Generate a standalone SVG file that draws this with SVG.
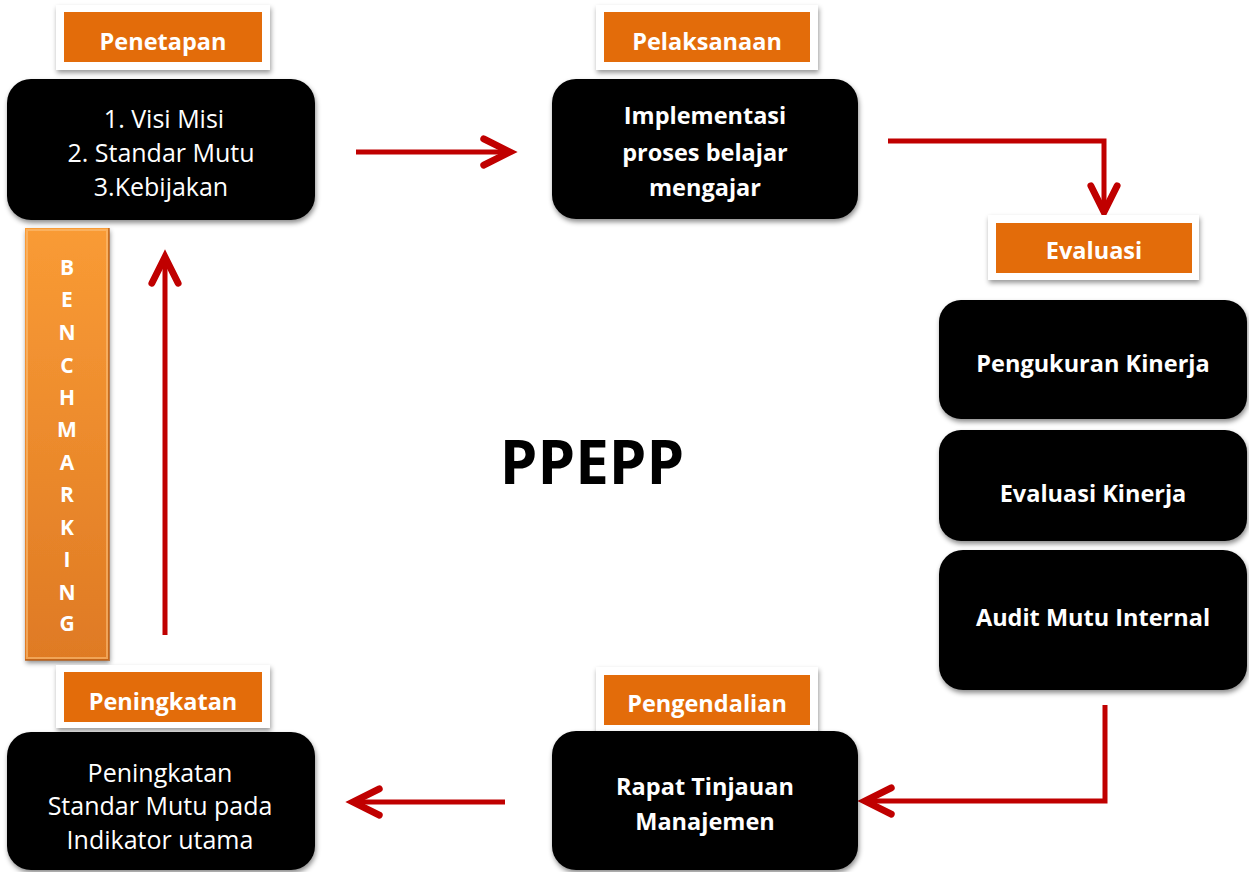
<svg xmlns="http://www.w3.org/2000/svg" width="1249" height="872" viewBox="0 0 1249 872">
<defs>
<style>
.box{fill:#000;filter:url(#sh);}
.frame{fill:#fff;filter:url(#sh2);}
.lab{fill:#E36C0A;}
.lt{font-family:"Open Sans","Liberation Sans",sans-serif;font-weight:bold;font-size:23.5px;fill:#fff;text-anchor:middle;}
.bt{font-family:"Open Sans","Liberation Sans",sans-serif;font-weight:bold;font-size:23.5px;fill:#fff;text-anchor:middle;}
.rt{font-family:"Open Sans","Liberation Sans",sans-serif;font-size:25px;fill:#fff;text-anchor:middle;}
.bm{font-family:"Open Sans","Liberation Sans",sans-serif;font-weight:bold;font-size:21px;fill:#fff;text-anchor:middle;}
.con{fill:none;stroke:#C00000;stroke-width:5;marker-end:url(#ah);}
</style>
<filter id="sh" x="-10%" y="-10%" width="125%" height="130%">
<feDropShadow dx="1" dy="3" stdDeviation="2.5" flood-color="#000" flood-opacity="0.45"/>
</filter>
<filter id="sh2" x="-10%" y="-10%" width="125%" height="140%">
<feDropShadow dx="1" dy="3" stdDeviation="2.5" flood-color="#000" flood-opacity="0.4"/>
</filter>
<linearGradient id="og" x1="0" y1="0" x2="0" y2="1">
<stop offset="0" stop-color="#F99B35"/>
<stop offset="1" stop-color="#DF7A24"/>
</linearGradient>
<marker id="ah" markerUnits="userSpaceOnUse" markerWidth="40" markerHeight="40" viewBox="-30 -15 35 30" refX="0" refY="0" orient="auto" overflow="visible">
<path d="M-23,-11.5 L0,0 L-23,11.5" fill="none" stroke="#C00000" stroke-width="6" stroke-linecap="round" stroke-linejoin="miter"/>
</marker>
</defs>
<rect width="1249" height="872" fill="#fff"/>

<g id="connectors">
<path class="con" d="M356,152 L510,152"/>
<path class="con" d="M888,141 L1104,141 L1104,212"/>
<path class="con" d="M1105,705 L1105,801 L865,801"/>
<path class="con" d="M505,802 L353,802"/>
<path class="con" d="M165,635 L165,257"/>
</g>

<g id="benchmarking">
<rect x="25" y="228" width="84" height="432" fill="url(#og)" filter="url(#sh)"/>
<rect x="27" y="230" width="80" height="428" fill="none" stroke="#FBC07A" stroke-width="2" opacity="0.6"/>
<path d="M25,660 L109,660 L109,228" fill="none" stroke="#B85C15" stroke-width="2" opacity="0.7"/>
<text class="bm" x="67" y="275">B</text>
<text class="bm" x="67" y="307">E</text>
<text class="bm" x="67" y="340">N</text>
<text class="bm" x="67" y="373">C</text>
<text class="bm" x="67" y="405">H</text>
<text class="bm" x="67" y="437">M</text>
<text class="bm" x="67" y="470">A</text>
<text class="bm" x="67" y="502">R</text>
<text class="bm" x="67" y="535">K</text>
<text class="bm" x="67" y="567">I</text>
<text class="bm" x="67" y="600">N</text>
<text class="bm" x="67" y="631">G</text>
</g>

<g id="penetapan">
<rect class="frame" x="56" y="5" width="214" height="65"/>
<rect class="lab" x="64" y="12" width="198" height="50"/>
<text class="lt" x="163" y="50">Penetapan</text>
<rect class="box" x="7" y="79" width="308" height="141" rx="24"/>
<text class="rt" x="164" y="128">1. Visi Misi</text>
<text class="rt" x="161" y="162">2. Standar Mutu</text>
<text class="rt" x="161" y="196">3.Kebijakan</text>
</g>

<g id="pelaksanaan">
<rect class="frame" x="596" y="5" width="222" height="65"/>
<rect class="lab" x="604" y="12" width="206" height="50"/>
<text class="lt" x="707" y="50">Pelaksanaan</text>
<rect class="box" x="552" y="79" width="306" height="140" rx="24"/>
<text class="bt" x="705" y="124">Implementasi</text>
<text class="bt" x="705" y="161">proses belajar</text>
<text class="bt" x="705" y="196">mengajar</text>
</g>

<g id="evaluasi">
<rect class="frame" x="988" y="215" width="211" height="65"/>
<rect class="lab" x="996" y="223" width="196" height="50"/>
<text class="lt" x="1094" y="259">Evaluasi</text>
</g>

<g id="pengukuran">
<rect class="box" x="939" y="300" width="308" height="119" rx="22"/>
<text class="bt" x="1093" y="372">Pengukuran Kinerja</text>
</g>

<g id="evaluasi-kinerja">
<rect class="box" x="939" y="430" width="308" height="111" rx="22"/>
<text class="bt" x="1093" y="502">Evaluasi Kinerja</text>
</g>

<g id="audit">
<rect class="box" x="939" y="550" width="308" height="140" rx="24"/>
<text class="bt" x="1093" y="626">Audit Mutu Internal</text>
</g>

<g id="pengendalian">
<rect class="frame" x="596" y="667" width="222" height="66"/>
<rect class="lab" x="604" y="675" width="206" height="50"/>
<text class="lt" x="707" y="712">Pengendalian</text>
<rect class="box" x="552" y="731" width="306" height="139" rx="24"/>
<text class="bt" x="705" y="795">Rapat Tinjauan</text>
<text class="bt" x="705" y="830">Manajemen</text>
</g>

<g id="peningkatan">
<rect class="frame" x="56" y="665" width="214" height="63"/>
<rect class="lab" x="64" y="672" width="198" height="50"/>
<text class="lt" x="163" y="710">Peningkatan</text>
<rect class="box" x="7" y="732" width="308" height="138" rx="24"/>
<text class="rt" x="160" y="782">Peningkatan</text>
<text class="rt" x="160" y="815">Standar Mutu pada</text>
<text class="rt" x="160" y="849">Indikator utama</text>
</g>

<g id="title">
<text x="592" y="484" font-family="Open Sans, Liberation Sans, sans-serif" font-weight="bold" font-size="60" fill="#000" text-anchor="middle">PPEPP</text>
</g>
</svg>
